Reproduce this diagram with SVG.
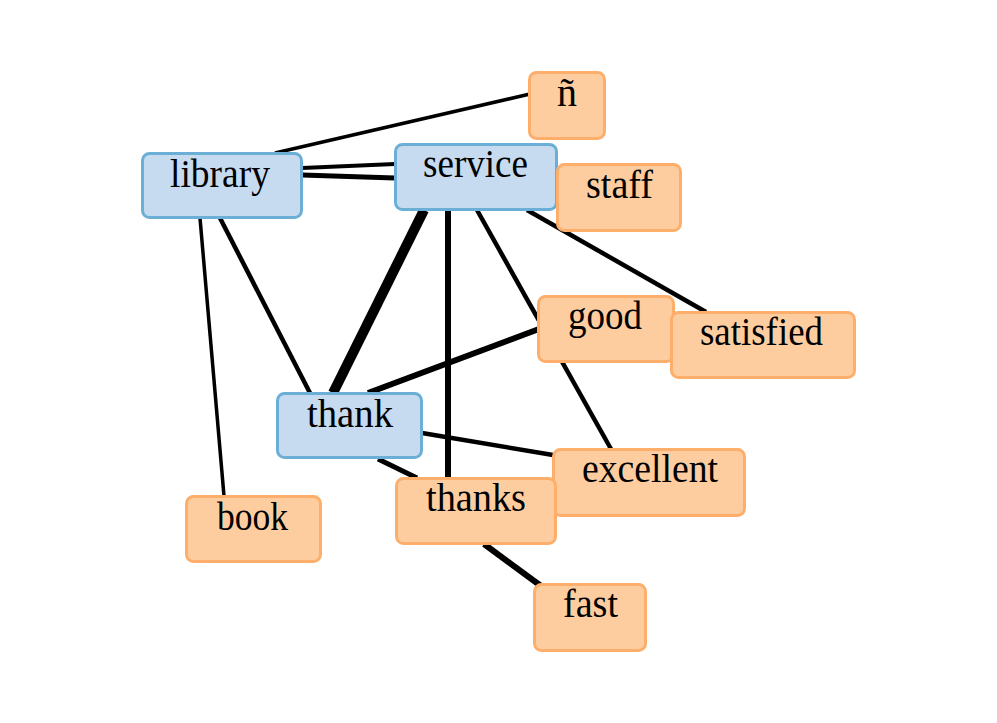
<svg xmlns="http://www.w3.org/2000/svg" width="997" height="723" viewBox="0 0 997 723">
<style>
.e{stroke:#000;fill:none;stroke-linecap:butt}
.b rect{fill:#c6dbef;stroke:#6baed6;stroke-width:3}
.o rect{fill:#fdcd9f;stroke:#fdae6b;stroke-width:3}
text{font-family:"Liberation Serif","DejaVu Serif",serif;font-size:40px;fill:#000}
</style>
<rect width="997" height="723" fill="#fff"/>
<g id="connectors">
<line class="e" x1="275" y1="153" x2="530" y2="94" stroke-width="3.5"/>
<line class="e" x1="302" y1="168" x2="395" y2="164" stroke-width="4"/>
<line class="e" x1="302" y1="175" x2="395" y2="178" stroke-width="5"/>
<line class="e" x1="220" y1="218" x2="310" y2="393" stroke-width="4.5"/>
<line class="e" x1="200" y1="218" x2="224" y2="496" stroke-width="3.5"/>
<line class="e" x1="424" y1="210" x2="333" y2="393" stroke-width="10"/>
<line class="e" x1="448" y1="210" x2="448" y2="478" stroke-width="6"/>
<line class="e" x1="477" y1="210" x2="611" y2="449" stroke-width="4.5"/>
<line class="e" x1="527" y1="210" x2="706" y2="312" stroke-width="4.5"/>
<line class="e" x1="368" y1="393" x2="539" y2="329" stroke-width="6"/>
<line class="e" x1="422" y1="433" x2="553" y2="455" stroke-width="4.5"/>
<line class="e" x1="378" y1="459" x2="417" y2="478" stroke-width="5"/>
<line class="e" x1="484" y1="544" x2="541" y2="586" stroke-width="6"/>
</g>
<g id="n_ntilde" class="o"><rect x="529.5" y="72.5" width="75" height="66" rx="7"/><text x="567" y="106" text-anchor="middle">ñ</text></g>
<g id="n_library" class="b"><rect x="142.5" y="153.5" width="159" height="64" rx="7"/><text x="170" y="187" textLength="100" lengthAdjust="spacingAndGlyphs">library</text></g>
<g id="n_service" class="b"><rect x="395.5" y="144.5" width="161" height="65" rx="7"/><text x="423" y="177" textLength="105" lengthAdjust="spacingAndGlyphs">service</text></g>
<g id="n_staff" class="o"><rect x="557.5" y="164.5" width="123" height="66" rx="7"/><text x="586" y="198" textLength="67" lengthAdjust="spacingAndGlyphs">staff</text></g>
<g id="n_good" class="o"><rect x="538.5" y="296.5" width="135" height="65" rx="7"/><text x="568" y="329" textLength="74" lengthAdjust="spacingAndGlyphs">good</text></g>
<g id="n_satisfied" class="o"><rect x="671.5" y="312.5" width="183" height="65" rx="7"/><text x="700" y="345" textLength="123" lengthAdjust="spacingAndGlyphs">satisfied</text></g>
<g id="n_thank" class="b"><rect x="277.5" y="393.5" width="144" height="64" rx="7"/><text x="307" y="427" textLength="86" lengthAdjust="spacingAndGlyphs">thank</text></g>
<g id="n_excellent" class="o"><rect x="553.5" y="449.5" width="191" height="66" rx="7"/><text x="582" y="482" textLength="136" lengthAdjust="spacingAndGlyphs">excellent</text></g>
<g id="n_thanks" class="o"><rect x="396.5" y="478.5" width="159" height="65" rx="7"/><text x="426" y="511" textLength="100" lengthAdjust="spacingAndGlyphs">thanks</text></g>
<g id="n_book" class="o"><rect x="186.5" y="496.5" width="134" height="65" rx="7"/><text x="217" y="530" textLength="71" lengthAdjust="spacingAndGlyphs">book</text></g>
<g id="n_fast" class="o"><rect x="534.5" y="584.5" width="111" height="66" rx="7"/><text x="563" y="617" textLength="55" lengthAdjust="spacingAndGlyphs">fast</text></g>
</svg>
